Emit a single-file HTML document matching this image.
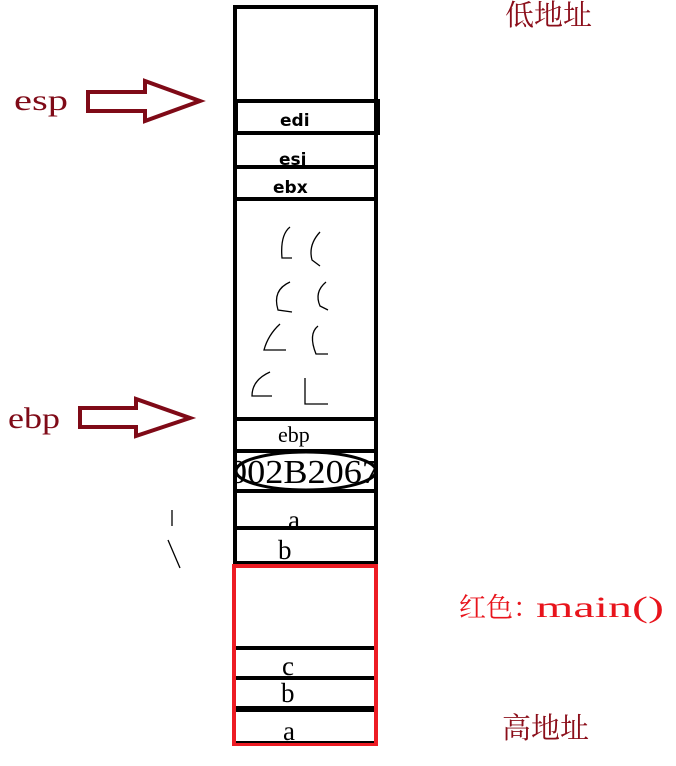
<!DOCTYPE html>
<html><head><meta charset="utf-8"><style>
html,body{margin:0;padding:0;background:#fff;width:676px;height:766px;overflow:hidden}
svg{display:block}
.s{font-family:"Liberation Serif","Noto Serif CJK SC",serif}
.c{font-family:"Noto Serif CJK SC","Noto Sans CJK SC",serif}
.b{font-family:"DejaVu Sans","Liberation Sans",sans-serif;font-weight:bold}
</style></head><body>
<svg width="676" height="766" viewBox="0 0 676 766">
<g fill="none" stroke="#000" stroke-width="4">
<rect x="235" y="7" width="141" height="558"/>
<rect x="236" y="101" width="142" height="32"/>
<line x1="235" y1="167" x2="376" y2="167"/>
<line x1="235" y1="199" x2="376" y2="199"/>
<line x1="235" y1="419" x2="378" y2="419"/>
<line x1="235" y1="451" x2="378" y2="451"/>
<line x1="235" y1="491" x2="378" y2="491"/>
<line x1="235" y1="528" x2="378" y2="528"/>
<line x1="235" y1="563" x2="376" y2="563"/>
<ellipse cx="306" cy="471" rx="70" ry="19" stroke-width="3"/>
</g>
<g>
<rect x="234" y="566" width="142" height="178" fill="none" stroke="#ed1c24" stroke-width="4"/>
<line x1="236" y1="648" x2="374" y2="648" stroke="#000" stroke-width="4"/>
<line x1="236" y1="678" x2="374" y2="678" stroke="#000" stroke-width="4"/>
<line x1="236" y1="709" x2="374" y2="709" stroke="#000" stroke-width="6"/>
<line x1="236" y1="742" x2="374" y2="742" stroke="#000" stroke-width="2"/>
</g>
<g fill="none" stroke="#000" stroke-width="1.3">
<path d="M290 227 Q280 235 282 258 L292 258"/><path d="M320 232 Q308 245 312 260 L320 266"/>
<path d="M290 282 Q272 290 278 310 L292 312"/><path d="M326 282 Q314 292 320 306 L328 310"/>
<path d="M280 324 Q268 335 264 350 L286 350"/><path d="M318 326 Q308 334 316 354 L328 354"/>
<path d="M270 372 Q252 380 252 396 L272 396"/><path d="M305 378 L305 404 L328 404"/>
<path d="M172 510 L172 526 M168 540 L180 568"/>
</g>
<g>
<text class="b" x="280" y="126" font-size="17">edi</text>
<text class="b" x="279" y="165" font-size="17">esi</text>
<text class="b" x="273" y="193" font-size="17">ebx</text>
<text class="s" x="278" y="442" font-size="22">ebp</text>
<svg x="237" y="452" width="138" height="38" overflow="hidden"><text class="s" x="-8" y="31" font-size="34" textLength="151" lengthAdjust="spacingAndGlyphs">002B2067</text></svg>
<text class="s" x="288" y="529" font-size="27">a</text>
<text class="s" x="278" y="559" font-size="27">b</text>
<text class="s" x="282" y="675" font-size="27">c</text>
<text class="s" x="281" y="702" font-size="27">b</text>
<text class="s" x="283" y="740" font-size="27">a</text>
</g>
<g>
<text class="s" x="14" y="110" font-size="30" fill="#7f0a17" textLength="54" lengthAdjust="spacingAndGlyphs">esp</text>
<text class="s" x="8" y="428" font-size="30" fill="#7f0a17" textLength="52" lengthAdjust="spacingAndGlyphs">ebp</text>
<path d="M88 92 L145 92 L145 81 L200 101 L145 121 L145 111 L88 111 Z" fill="none" stroke="#7f0a17" stroke-width="4"/>
<path d="M80 408 L136 408 L136 399 L190 418 L136 436 L136 427 L80 427 Z" fill="none" stroke="#7f0a17" stroke-width="4"/>
</g>
<text class="c" x="505" y="25" font-size="29" fill="#8b0e1a">低地址</text>
<text class="c" x="459" y="617" font-size="27" fill="#e8141c">红色：</text>
<text x="536" y="617" font-family="Liberation Serif, serif" font-size="30" fill="#e8141c" textLength="128" lengthAdjust="spacingAndGlyphs">main()</text>
<text class="c" x="502" y="738" font-size="29" fill="#8b0e1a">高地址</text>
</svg>
</body></html>
